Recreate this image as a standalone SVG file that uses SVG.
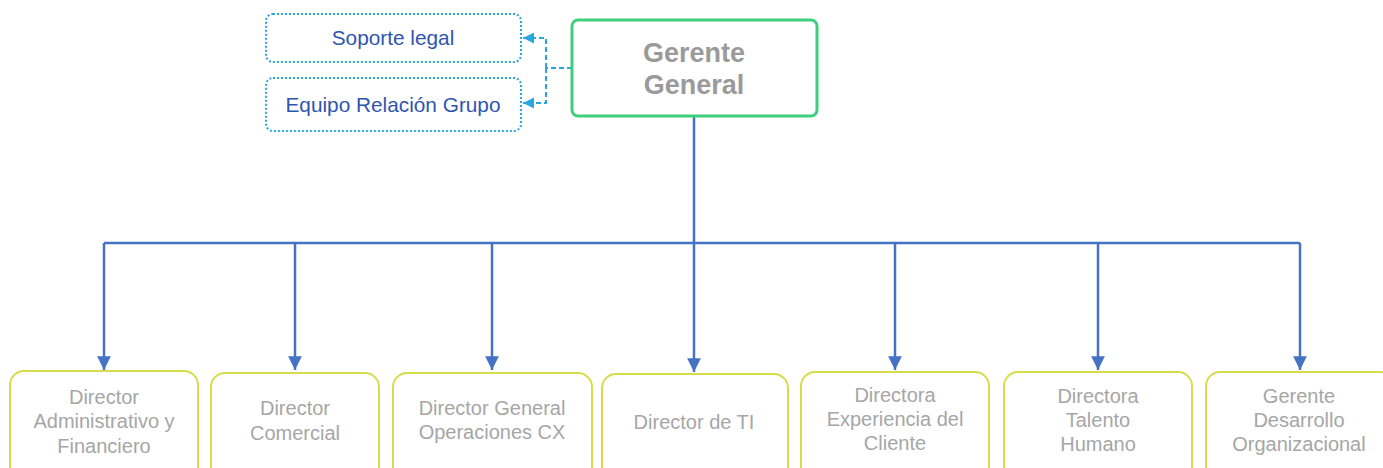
<svg xmlns="http://www.w3.org/2000/svg" width="1383" height="468" viewBox="0 0 1383 468">
<style>
.bg{fill:#ffffff}
.dir rect{fill:#ffffff;stroke:#d6dc4a;stroke-width:2}
.dir text{font-family:"Liberation Sans",Arial,sans-serif;font-size:20px;fill:#a6a6a6;text-anchor:middle}
.sup rect{fill:#ffffff;stroke:#29a8e0;stroke-width:2;stroke-dasharray:2,2}
.sup text{font-family:"Liberation Sans",Arial,sans-serif;font-size:20.8px;fill:#2f55b0;text-anchor:middle}
.gm rect{fill:#ffffff;stroke:#3ecf7e;stroke-width:3}
.gm text{font-family:"Liberation Sans",Arial,sans-serif;font-size:27px;font-weight:bold;fill:#9a9a9a;text-anchor:middle}
.main{fill:none;stroke:#4472c4;stroke-width:2.5}
.dash{fill:none;stroke:#29a8e0;stroke-width:2;stroke-dasharray:5,3}
</style>
<defs>
<marker id="arrB" viewBox="0 0 10 10" refX="10" refY="5" markerWidth="5.5" markerHeight="5.5" orient="auto" markerUnits="strokeWidth">
<path d="M0,0 L10,5 L0,10 z" fill="#4472c4"/>
</marker>
<marker id="arrC" viewBox="0 0 10 10" refX="10" refY="5" markerWidth="5.5" markerHeight="5.5" orient="auto" markerUnits="strokeWidth">
<path d="M0,0 L10,5 L0,10 z" fill="#29a8e0"/>
</marker>
</defs>
<rect class="bg" x="0" y="0" width="1383" height="468"/>

<g id="connectors">
<path class="main" d="M694,116 V243" stroke-width="3.5"/>
<path class="main" d="M104,243 H1300"/>
<path class="main" d="M104,243 V370" marker-end="url(#arrB)"/>
<path class="main" d="M295,243 V370" marker-end="url(#arrB)"/>
<path class="main" d="M492,243 V370" marker-end="url(#arrB)"/>
<path class="main" d="M694,243 V372" marker-end="url(#arrB)"/>
<path class="main" d="M895,243 V370" marker-end="url(#arrB)"/>
<path class="main" d="M1098,243 V370" marker-end="url(#arrB)"/>
<path class="main" d="M1300,243 V370" marker-end="url(#arrB)"/>
<path class="dash" d="M572,68 H546"/>
<path class="dash" d="M546,68 V38 H523" marker-end="url(#arrC)"/>
<path class="dash" d="M546,68 V103 H523" marker-end="url(#arrC)"/>
</g>

<g id="gerente-general" class="gm">
<rect x="572" y="20" width="245" height="96" rx="6"/>
<text x="694" y="62">Gerente</text>
<text x="694" y="94">General</text>
</g>

<g id="soporte-legal" class="sup">
<rect x="266" y="14" width="255" height="48" rx="7"/>
<text x="393" y="45">Soporte legal</text>
</g>

<g id="equipo-relacion-grupo" class="sup">
<rect x="266" y="78" width="255" height="53" rx="7"/>
<text x="393" y="112">Equipo Relación Grupo</text>
</g>

<g id="dir-admin" class="dir">
<rect x="10" y="371" width="188" height="110" rx="14"/>
<text x="104" y="404">Director</text>
<text x="104" y="428">Administrativo y</text>
<text x="104" y="453">Financiero</text>
</g>

<g id="dir-comercial" class="dir">
<rect x="211" y="373" width="168" height="110" rx="14"/>
<text x="295" y="415">Director</text>
<text x="295" y="440">Comercial</text>
</g>

<g id="dir-operaciones" class="dir">
<rect x="393" y="373" width="199" height="110" rx="14"/>
<text x="492" y="415">Director General</text>
<text x="492" y="439">Operaciones CX</text>
</g>

<g id="dir-ti" class="dir">
<rect x="602" y="374" width="186" height="110" rx="14"/>
<text x="694" y="429">Director de TI</text>
</g>

<g id="dir-experiencia" class="dir">
<rect x="801" y="372" width="188" height="110" rx="14"/>
<text x="895" y="402">Directora</text>
<text x="895" y="426">Experiencia del</text>
<text x="895" y="450">Cliente</text>
</g>

<g id="dir-talento" class="dir">
<rect x="1004" y="372" width="188" height="110" rx="14"/>
<text x="1098" y="403">Directora</text>
<text x="1098" y="427">Talento</text>
<text x="1098" y="451">Humano</text>
</g>

<g id="ger-desarrollo" class="dir">
<rect x="1206" y="372" width="188" height="110" rx="14"/>
<text x="1299" y="403">Gerente</text>
<text x="1299" y="427">Desarrollo</text>
<text x="1299" y="451">Organizacional</text>
</g>
</svg>
